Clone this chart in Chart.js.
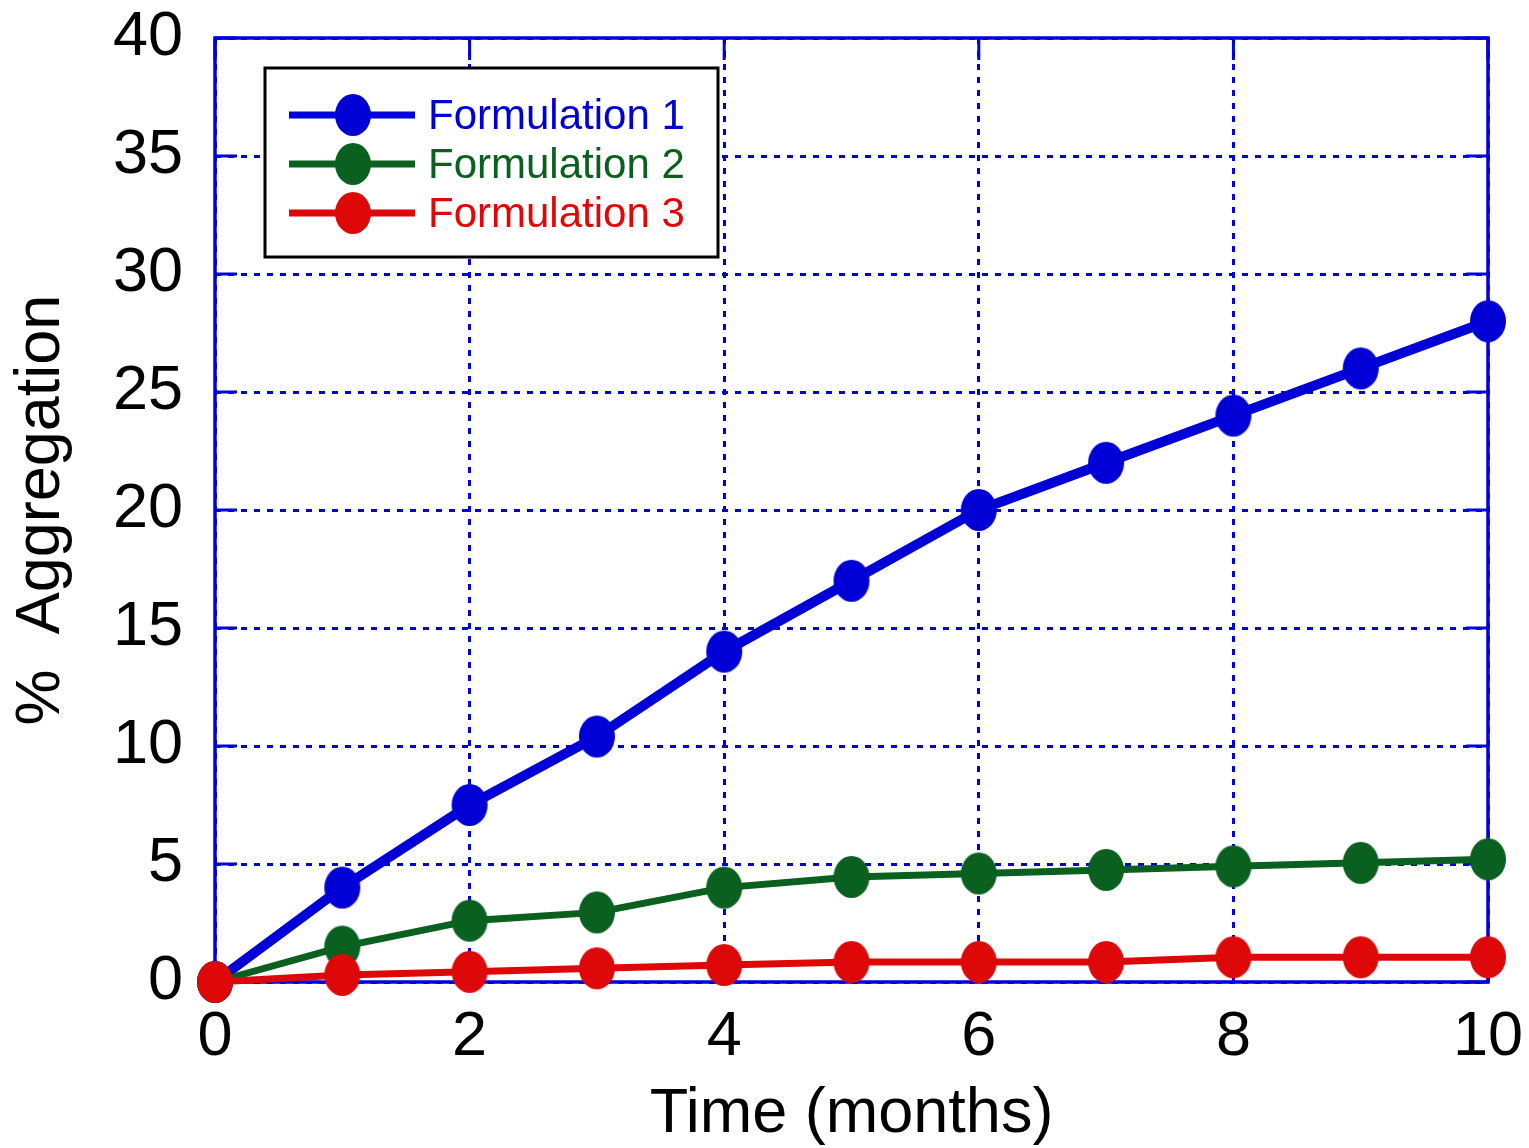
<!DOCTYPE html>
<html>
<head>
<meta charset="utf-8">
<script src="https://cdn.jsdelivr.net/npm/chart.js@4.4.1/dist/chart.umd.min.js"></script>
<style>
  html, body { margin: 0; padding: 0; background: #fff; }
  #wrap { width: 1529px; height: 1148px; }
</style>
</head>
<body>
<div id="wrap"><canvas id="grafico" width="1529" height="1148"></canvas></div>
<script>
// dados
const months = [0, 1, 2, 3, 4, 5, 6, 7, 8, 9, 10];
const formulation1 = [0, 4, 7.5, 10.4, 14, 17, 20, 22, 24, 26, 28];
const formulation2 = [0, 1.5, 2.6, 2.95, 4, 4.45, 4.6, 4.75, 4.9, 5.05, 5.2];
const formulation3 = [0, 0.3, 0.43, 0.58, 0.72, 0.85, 0.85, 0.85, 1.05, 1.05, 1.05];
const seriesLabels = ["Formulation 1", "Formulation 2", "Formulation 3"];
const xTicks = [0, 2, 4, 6, 8, 10];
const yTicks = [0, 5, 10, 15, 20, 25, 30, 35, 40];

const FONT = "'Liberation Sans', Arial, sans-serif";
const AXIS_BLUE = "#0000dd";
const cores = ["#0000d6", "#0a601e", "#de0808"];

// marcador (octógono achatado como no original)
function criarMarcador(cor) {
  const c = document.createElement("canvas");
  c.width = 38; c.height = 44;
  const g = c.getContext("2d");
  g.fillStyle = cor;
  g.beginPath();
  g.ellipse(19, 22, 18, 21, 0, 0, Math.PI * 2);
  g.fill();
  return c;
}
const marcadores = cores.map(criarMarcador);

function serie(valores) {
  return months.map((m, i) => ({ x: m, y: valores[i] }));
}

// -------------------------
// Plugins
// -------------------------
const moldura = {
  id: "moldura",
  beforeDatasetsDraw(chart) {
    const { ctx, chartArea: a, scales } = chart;
    ctx.save();
    ctx.strokeStyle = AXIS_BLUE;
    ctx.lineWidth = 3;
    ctx.setLineDash([]);
    const len = 22;
    ctx.beginPath();
    xTicks.forEach(v => {
      const px = scales.x.getPixelForValue(v);
      ctx.moveTo(px, a.bottom); ctx.lineTo(px, a.bottom - len);
      ctx.moveTo(px, a.top); ctx.lineTo(px, a.top + len);
    });
    yTicks.forEach(v => {
      const py = scales.y.getPixelForValue(v);
      ctx.moveTo(a.left, py); ctx.lineTo(a.left + len, py);
      ctx.moveTo(a.right, py); ctx.lineTo(a.right - len, py);
    });
    ctx.stroke();
    ctx.lineWidth = 3.5;
    ctx.strokeRect(a.left, a.top, a.right - a.left, a.bottom - a.top);
    ctx.restore();
  }
};

const legenda = {
  id: "legenda",
  afterDraw(chart) {
    const { ctx } = chart;
    const box = { x: 265, y: 68, w: 453, h: 189 };
    ctx.save();
    ctx.fillStyle = "#fff";
    ctx.fillRect(box.x, box.y, box.w, box.h);
    ctx.strokeStyle = "#000";
    ctx.lineWidth = 3;
    ctx.strokeRect(box.x, box.y, box.w, box.h);
    ctx.font = "42px " + FONT;
    ctx.textBaseline = "middle";
    chart.data.datasets.forEach((ds, i) => {
      const y = 115 + i * 49;
      ctx.strokeStyle = ds.borderColor;
      ctx.lineWidth = 7;
      ctx.beginPath();
      ctx.moveTo(289, y); ctx.lineTo(415, y);
      ctx.stroke();
      ctx.drawImage(marcadores[i], 353 - 19, y - 22);
      ctx.fillStyle = ds.borderColor;
      ctx.fillText(ds.label, 428, y + 2);
    });
    ctx.restore();
  }
};

// -------------------------
// Gráfico
// -------------------------
const ctxGrafico = document.getElementById("grafico").getContext("2d");
new Chart(ctxGrafico, {
  type: "line",
  data: {
    datasets: [
      { label: seriesLabels[0], data: serie(formulation1), borderColor: cores[0], borderWidth: 10,
        pointStyle: marcadores[0], order: 3, clip: false },
      { label: seriesLabels[1], data: serie(formulation2), borderColor: cores[1], borderWidth: 7,
        pointStyle: marcadores[1], order: 2, clip: false },
      { label: seriesLabels[2], data: serie(formulation3), borderColor: cores[2], borderWidth: 7,
        pointStyle: marcadores[2], order: 1, clip: false }
    ]
  },
  options: {
    responsive: false,
    animation: false,
    events: [],
    layout: { padding: { top: 38, right: 41, left: 0, bottom: 0 } },
    plugins: { legend: { display: false }, tooltip: { enabled: false } },
    scales: {
      x: {
        type: "linear", min: 0, max: 10,
        afterBuildTicks: s => { s.ticks = xTicks.map(v => ({ value: v })); },
        afterFit: s => { s.height = 166; s.paddingLeft = 0; s.paddingRight = 0; },
        ticks: { color: "#000", font: { family: FONT, size: 63, lineHeight: 1 }, padding: 24, maxRotation: 0 },
        grid: { color: AXIS_BLUE, lineWidth: 3, drawTicks: false },
        border: { display: false, dash: [6, 7] },
        title: { display: true, text: "Time (months)", color: "#000",
          font: { family: FONT, size: 63, lineHeight: 1 }, padding: { top: 0, bottom: 2 } }
      },
      y: {
        type: "linear", min: 0, max: 40,
        afterBuildTicks: s => { s.ticks = yTicks.map(v => ({ value: v })); },
        afterFit: s => { s.width = 215; s.paddingTop = 0; s.paddingBottom = 0; },
        ticks: { color: "#000", font: { family: FONT, size: 63, lineHeight: 1 }, padding: 32 },
        grid: { color: AXIS_BLUE, lineWidth: 3, drawTicks: false },
        border: { display: false, dash: [6, 7] },
        title: { display: true, text: "%  Aggregation", color: "#000",
          font: { family: FONT, size: 63, lineHeight: 1 }, padding: { top: 10, bottom: 0 } }
      }
    }
  },
  plugins: [moldura, legenda]
});
</script>
</body>
</html>
